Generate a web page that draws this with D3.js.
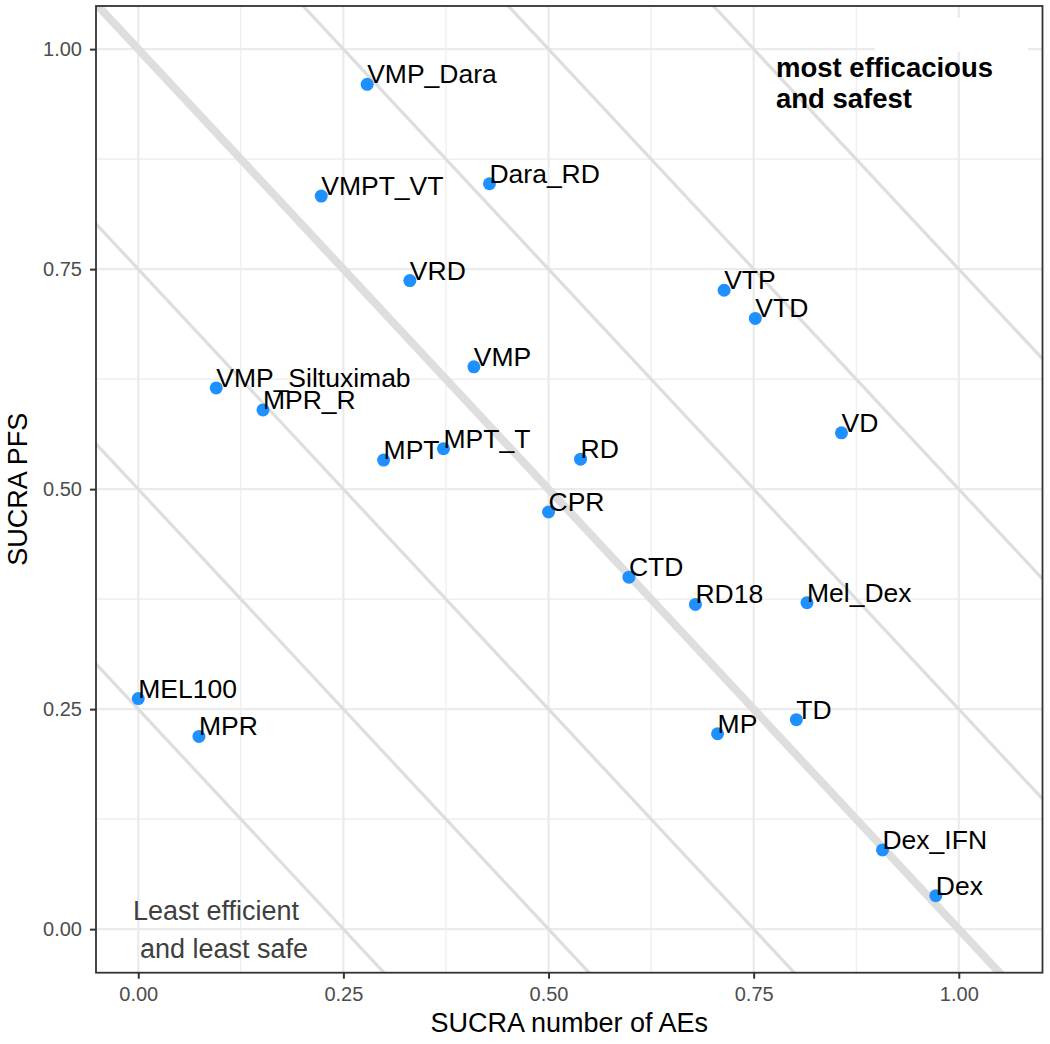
<!DOCTYPE html>
<html>
<head>
<meta charset="utf-8">
<script src="https://cdn.jsdelivr.net/npm/d3@7"></script>
<style>
  body { margin: 0; background: #fff; }
  text { font-family: "Liberation Sans", Arial, sans-serif; }
</style>
</head>
<body>
<svg id="chart" width="1050" height="1044"></svg>
<script>
// treatments, SUCRA number of AEs (x), SUCRA PFS (y)
var treatments = ["VMP_Dara", "VMPT_VT", "Dara_RD", "VRD", "VTP", "VTD", "VMP",
  "VMP_Siltuximab", "MPR_R", "VD", "MPT", "MPT_T", "RD", "CPR", "CTD", "RD18",
  "Mel_Dex", "MEL100", "MPR", "TD", "MP", "Dex_IFN", "Dex"];
var sucraAEs = [0.279, 0.223, 0.428, 0.331, 0.714, 0.752, 0.409,
  0.095, 0.152, 0.857, 0.299, 0.372, 0.539, 0.500, 0.598, 0.679,
  0.815, 0.000, 0.074, 0.802, 0.706, 0.907, 0.972];
var sucraPFS = [0.960, 0.833, 0.847, 0.737, 0.726, 0.694, 0.639,
  0.615, 0.590, 0.564, 0.533, 0.546, 0.534, 0.474, 0.400, 0.369,
  0.371, 0.262, 0.219, 0.238, 0.222, 0.090, 0.038];

// diagonal reference lines x + y = c
var diagonals = [0.25, 0.5, 0.75, 1, 1.25, 1.5, 1.75];
var tickValues = [0, 0.25, 0.5, 0.75, 1];
var minorValues = [0.125, 0.375, 0.625, 0.875];

var data = treatments.map(function (t, i) {
  return { name: t, x: sucraAEs[i], y: sucraPFS[i] };
});

var svg = d3.select("#chart");
var pLeft = 96, pRight = 1042.5, pTop = 6, pBottom = 972.7;

var x = d3.scaleLinear().domain([-0.0515, 1.102]).range([pLeft, pRight]);
var y = d3.scaleLinear().domain([-0.0495, 1.049]).range([pBottom, pTop]);

svg.append("defs").append("clipPath").attr("id", "panel")
  .append("rect")
  .attr("x", pLeft).attr("y", pTop)
  .attr("width", pRight - pLeft).attr("height", pBottom - pTop);

var panel = svg.append("g").attr("clip-path", "url(#panel)");

//grid lines
panel.selectAll(".minor-x").data(minorValues).enter().append("line")
  .attr("x1", function (d) { return x(d); }).attr("x2", function (d) { return x(d); })
  .attr("y1", pTop).attr("y2", pBottom)
  .attr("stroke", "#ebebeb").attr("stroke-width", 1.1);
panel.selectAll(".minor-y").data(minorValues).enter().append("line")
  .attr("y1", function (d) { return y(d); }).attr("y2", function (d) { return y(d); })
  .attr("x1", pLeft).attr("x2", pRight)
  .attr("stroke", "#ebebeb").attr("stroke-width", 1.1);
panel.selectAll(".major-x").data(tickValues).enter().append("line")
  .attr("x1", function (d) { return x(d); }).attr("x2", function (d) { return x(d); })
  .attr("y1", pTop).attr("y2", pBottom)
  .attr("stroke", "#ebebeb").attr("stroke-width", 2.2);
panel.selectAll(".major-y").data(tickValues).enter().append("line")
  .attr("y1", function (d) { return y(d); }).attr("y2", function (d) { return y(d); })
  .attr("x1", pLeft).attr("x2", pRight)
  .attr("stroke", "#ebebeb").attr("stroke-width", 2.2);

// white patch in the top right corner
panel.append("rect")
  .attr("x", 875).attr("y", 18).attr("width", 153).attr("height", 34)
  .attr("fill", "#fff");

var x0 = x.domain()[0], x1 = x.domain()[1];
panel.selectAll(".diag").data(diagonals).enter().append("line")
  .attr("x1", x(x0)).attr("x2", x(x1))
  .attr("y1", function (d) { return y(d - x0); })
  .attr("y2", function (d) { return y(d - x1); })
  .attr("stroke", "#dedede")
  .attr("stroke-width", function (d) { return d === 1 ? 8 : 3.2; });

panel.selectAll("circle").data(data).enter().append("circle")
  .attr("cx", function (d) { return x(d.x); })
  .attr("cy", function (d) { return y(d.y); })
  .attr("r", 6.5)
  .attr("fill", "#1e90ff");

panel.selectAll(".lbl").data(data).enter().append("text")
  .attr("x", function (d) { return x(d.x); })
  .attr("y", function (d) { return y(d.y) - 1; })
  .attr("font-size", 26.5)
  .attr("fill", "#000")
  .text(function (d) { return d.name; });

panel.append("text")
  .attr("x", 776).attr("y", 77)
  .attr("font-size", 27.5).attr("font-weight", "bold")
  .text("most efficacious");
panel.append("text")
  .attr("x", 776).attr("y", 108)
  .attr("font-size", 27.5).attr("font-weight", "bold")
  .text("and safest");

panel.append("text")
  .attr("x", 133).attr("y", 920)
  .attr("font-size", 27).attr("fill", "#404040")
  .text("Least efficient");
panel.append("text")
  .attr("x", 140).attr("y", 958)
  .attr("font-size", 27).attr("fill", "#404040")
  .text("and least safe");

// border
svg.append("rect")
  .attr("x", pLeft).attr("y", pTop)
  .attr("width", pRight - pLeft).attr("height", pBottom - pTop)
  .attr("fill", "none").attr("stroke", "#333").attr("stroke-width", 1.8);

//axes
var xAxis = svg.append("g").attr("transform", "translate(0," + pBottom + ")")
  .call(d3.axisBottom(x).tickValues(tickValues).tickFormat(d3.format(".2f"))
    .tickSizeOuter(0).tickSizeInner(6).tickPadding(8));
var yAxis = svg.append("g").attr("transform", "translate(" + pLeft + ",0)")
  .call(d3.axisLeft(y).tickValues(tickValues).tickFormat(d3.format(".2f"))
    .tickSizeOuter(0).tickSizeInner(6).tickPadding(8));

[xAxis, yAxis].forEach(function (a) {
  a.select(".domain").remove();
  a.selectAll(".tick line").attr("stroke", "#333").attr("stroke-width", 2);
  a.selectAll(".tick text")
    .attr("fill", "#4d4d4d")
    .attr("font-size", 20)
    .attr("font-family", "'Liberation Sans', Arial, sans-serif");
});

svg.append("text")
  .attr("x", (pLeft + pRight) / 2).attr("y", 1032)
  .attr("text-anchor", "middle").attr("font-size", 27)
  .text("SUCRA number of AEs");

svg.append("text")
  .attr("transform", "translate(27," + (pTop + pBottom) / 2 + ") rotate(-90)")
  .attr("text-anchor", "middle").attr("font-size", 27)
  .text("SUCRA PFS");
</script>
</body>
</html>
